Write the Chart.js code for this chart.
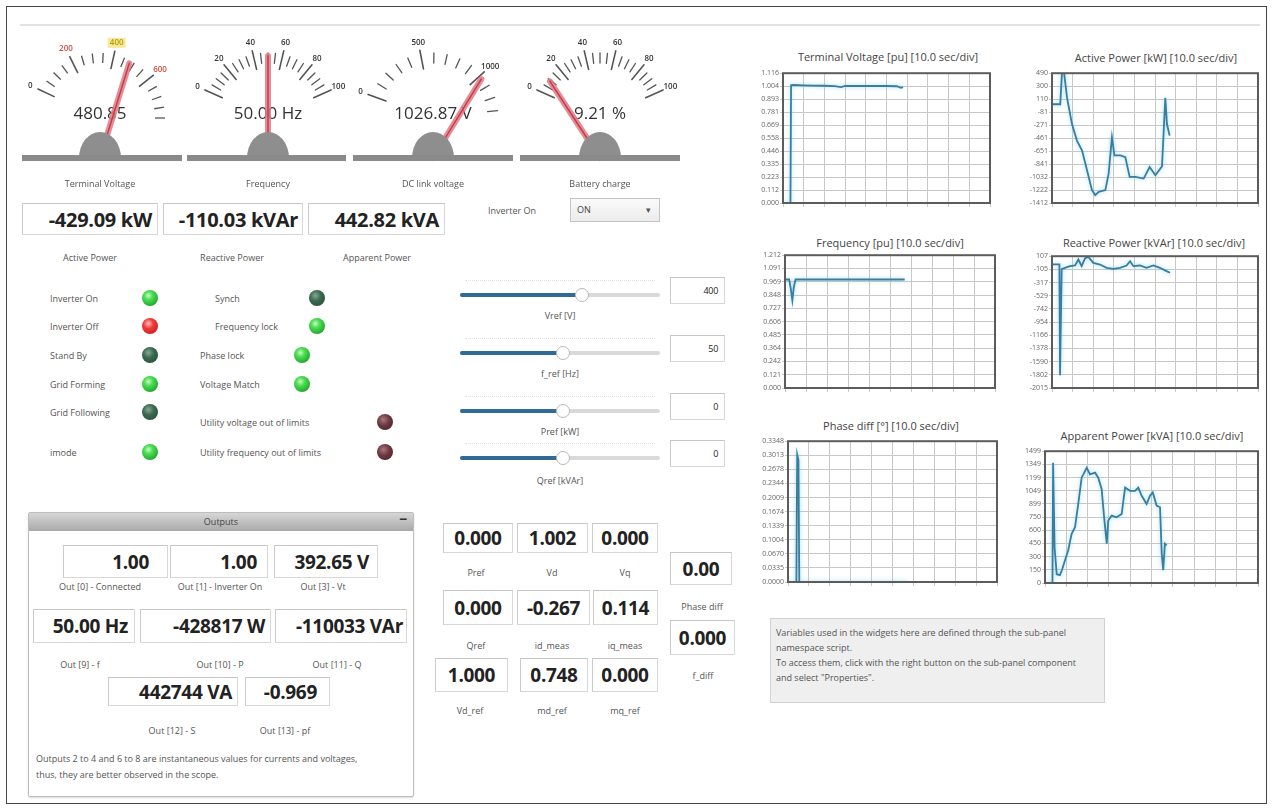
<!DOCTYPE html>
<html>
<head>
<meta charset="utf-8">
<script src="https://cdn.jsdelivr.net/npm/chart.js@4.4.1/dist/chart.umd.min.js"></script>
<style>
html, body { margin: 0; background: #fff; }
#wrap { position: relative; width: 1274px; height: 809px; overflow: hidden; font-family: "Open Sans", sans-serif; color: #333; }
.abs { position: absolute; }
.lbl { position: absolute; font-size: 9px; color: #555; white-space: nowrap; transform: translate(-50%, -50%); }
.lbl.lft { transform: translate(0, -50%); }
.ttl { position: absolute; font-size: 11px; color: #444; white-space: nowrap; transform: translate(-50%, -50%); }
.box { position: absolute; box-sizing: border-box; border: 1px solid #d8d8d8; border-top-color: #c6c6c6; border-left-color: #cccccc;
       display: flex; align-items: center; font-weight: 700; color: #222; white-space: nowrap; background: #fff; letter-spacing: -0.3px; }
.led { position: absolute; width: 16px; height: 16px; border-radius: 50%; }
.led.g { background: radial-gradient(circle at 40% 35%, #c4ffbc 0, #4fdc55 30%, #22ad2e 72%, #178520 100%); }
.led.d { background: radial-gradient(circle at 40% 35%, #86a892 0, #3b6a50 38%, #234632 100%); }
.led.r { background: radial-gradient(circle at 40% 35%, #ffc0c0 0, #f03a3a 35%, #bb1212 100%); }
.led.m { background: radial-gradient(circle at 40% 35%, #a8787f 0, #6d3843 42%, #441b23 100%); }
canvas { position: absolute; }
</style>
</head>
<body>
<div id="wrap"></div>
<script>
// --- gauges ---
var gaugeNames = ["Terminal Voltage", "Frequency", "DC link voltage", "Battery charge"];
var gaugeValues = [480.85, 50.00, 1026.87, 9.21];
var gaugeUnits = ["", " Hz", " V", " %"];
var gaugeMax = [800, 100, 1300, 100];
var gaugeMinor = [50, 5, 100, 5];
var gaugeLabels = [[0, 200, 400, 600], [0, 20, 40, 60, 80, 100], [0, 500, 1000], [0, 20, 40, 60, 80, 100]];

// --- scopes (time in s, 10 sec/div) ---
var tvTime = [0, 3.6, 3.9, 5, 10, 15, 20, 25, 28, 30, 35, 40, 45, 50, 55, 57, 58];
var tvVals = [0, 0, 1.012, 1.015, 1.012, 1.01, 1.008, 1.005, 0.996, 1.006, 1.006, 1.006, 1.006, 1.006, 1.004, 0.99, 0.996];
var tvTicks = ["0.000", "0.112", "0.223", "0.335", "0.446", "0.558", "0.669", "0.781", "0.893", "1.004", "1.116"];

var apTime = [0, 4.0, 4.8, 5.6, 7.3, 9.7, 12.1, 14.6, 17.0, 19.4, 21.0, 22.7, 25.9, 27.5, 29.1, 30.3, 33.2, 35.6, 37.7, 40.5, 44.5, 47.4, 50.2, 53.4, 55.0, 55.8, 57.1];
var apVals = [35, 35, 471, 560, 131, -255, -497, -643, -933, -1223, -1296, -1248, -1223, -981, -449, -715, -715, -740, -1030, -1030, -1054, -885, -1006, -875, 131, -255, -425];
var apTicks = ["-1412", "-1222", "-1032", "-841", "-651", "-461", "-271", "-81", "110", "300", "490"];

var frTime = [0, 2.0, 2.8, 3.5, 4.2, 5.0, 10, 20, 30, 40, 50, 57];
var frVals = [0.99, 0.99, 0.9, 0.8, 0.92, 0.99, 0.99, 0.99, 0.99, 0.99, 0.99, 0.99];
var frTicks = ["0.000", "0.121", "0.242", "0.364", "0.485", "0.606", "0.727", "0.848", "0.969", "1.091", "1.212"];

var rpTime = [0, 3.6, 3.9, 4.7, 6.3, 8.7, 11.2, 12.8, 14.4, 16.0, 17.6, 20.1, 23.3, 26.5, 29.8, 33.0, 36.2, 37.9, 39.5, 42.7, 45.9, 49.2, 52.4, 55.6, 57.3];
var rpVals = [-25, -25, -1808, -100, -80, -53, -43, 53, -53, 70, 96, 0, -27, -80, -96, -80, -43, 27, -53, -43, -80, -43, -80, -133, -160];
var rpTicks = ["-2015", "-1802", "-1590", "-1378", "-1166", "-954", "-742", "-529", "-317", "-105", "107"];

var pdTime = [0, 4.0, 4.4, 5.0, 5.4, 10, 20, 30, 40, 50, 57];
var pdVals = [0, 0, 0.303, 0.29, 0, 0, 0, 0, 0, 0, 0];
var pdTicks = ["0.0000", "0.0335", "0.0670", "0.1004", "0.1339", "0.1674", "0.2009", "0.2344", "0.2678", "0.3013", "0.3348"];

var spTime = [0, 3.5, 3.8, 4.5, 5.5, 7.0, 8.0, 9.4, 10.9, 12.5, 14.1, 15.6, 17.2, 19.6, 21.1, 23.5, 25.0, 26.6, 27.9, 29.0, 29.7, 31.3, 33.6, 36.0, 37.6, 39.9, 42.3, 43.8, 45.4, 47.7, 49.3, 50.6, 52.4, 54.0, 54.8, 55.5, 56.3, 57.1];
var spVals = [0, 0, 1367, 400, 100, 90, 150, 259, 372, 560, 635, 898, 1198, 1311, 1236, 1255, 1198, 1067, 710, 447, 710, 766, 748, 785, 1085, 1048, 1048, 1085, 992, 898, 992, 1030, 880, 861, 334, 147, 447, 428];
var spTicks = ["0", "150", "300", "450", "600", "750", "899", "1049", "1199", "1349", "1499"];

var wrap = document.getElementById("wrap");

function el(cls, css, text) {
    var d = document.createElement("div");
    d.className = cls;
    Object.keys(css).forEach(function (k) { d.style[k] = css[k]; });
    if (text !== undefined) d.textContent = text;
    wrap.appendChild(d);
    return d;
}
function px(v) { return v + "px"; }
function lbl(x, y, t, left) { return el("lbl" + (left ? " lft" : ""), { left: px(x), top: px(y) }, t); }
function box(x1, y1, x2, y2, t, o) {
    o = o || {};
    return el("box", {
        left: px(x1), top: px(y1), width: px(x2 - x1), height: px(y2 - y1),
        fontSize: px(o.fs || 19), fontWeight: o.normal ? "400" : "700",
        justifyContent: o.center ? "center" : "flex-end",
        paddingRight: px(o.pr !== undefined ? o.pr : 5)
    }, t);
}
function led(x, y, k) { el("led " + k, { left: px(x - 8), top: px(y - 8) }); }

// frame
el("abs", { left: "6px", top: "6px", width: "1261px", height: "798px", border: "1px solid #444", boxSizing: "border-box" });
el("abs", { left: "20px", top: "24px", width: "1240px", height: "2px", background: "#e2e2e2" });

// gauges
(function () {
    var cxs = [100, 268, 433, 600];
    var bars = [[22, 182], [187, 346], [353, 513], [520, 680]];
    var a0 = [155, 156, 160, 156], a1 = [0, 24, 6.6, 24];
    var cv = document.createElement("canvas");
    cv.width = 700; cv.height = 200;
    cv.style.left = "0px"; cv.style.top = "0px";
    wrap.appendChild(cv);
    var ctx = cv.getContext("2d");
    gaugeNames.forEach(function (name, i) {
        var cx = cxs[i], cy = 118, py = 158, mx = gaugeMax[i];
        var ang = function (v) { return (a0[i] + v / mx * (a1[i] - a0[i])) * Math.PI / 180; };
        var pt = function (v, r) { var a = ang(v); return [cx + r * Math.cos(a), cy - r * Math.sin(a)]; };
        for (var v = 0; v <= mx + 1e-9; v += gaugeMinor[i]) {
            var major = gaugeLabels[i].indexOf(v) >= 0;
            var p0 = pt(v, major ? 50 : 55), p1 = pt(v, major ? 69 : 65);
            ctx.strokeStyle = "#555"; ctx.lineWidth = major ? 1.6 : 1.3;
            ctx.beginPath(); ctx.moveTo(p0[0], p0[1]); ctx.lineTo(p1[0], p1[1]); ctx.stroke();
        }
        ctx.font = "600 8px 'Open Sans'"; ctx.textAlign = "center"; ctx.textBaseline = "middle";
        gaugeLabels[i].forEach(function (v) {
            var p = pt(v, 77), col = "#333";
            if (i === 0 && (v === 200 || v === 600)) col = "#d24b45";
            if (i === 0 && v === 400) {
                ctx.fillStyle = "#f4ea9c"; ctx.fillRect(p[0] - 9, p[1] - 5, 18, 10); col = "#b89c00";
            }
            ctx.fillStyle = col; ctx.fillText(String(v), p[0], p[1]);
        });
        ctx.font = "17px 'Open Sans'"; ctx.fillStyle = "#333";
        ctx.fillText(gaugeValues[i].toFixed(2) + gaugeUnits[i], cx, 114);
        var tip = pt(gaugeValues[i], 62);
        ctx.lineCap = "round";
        ctx.strokeStyle = "rgba(224,120,130,0.85)"; ctx.lineWidth = 6;
        ctx.beginPath(); ctx.moveTo(cx, py); ctx.lineTo(tip[0], tip[1]); ctx.stroke();
        ctx.strokeStyle = "#c23a48"; ctx.lineWidth = 1.4;
        ctx.beginPath(); ctx.moveTo(cx, py); ctx.lineTo(tip[0], tip[1]); ctx.stroke();
        ctx.fillStyle = "#8e8e8e";
        ctx.beginPath(); ctx.ellipse(cx, py, 21, 26, 0, Math.PI, 2 * Math.PI); ctx.fill();
        ctx.fillStyle = "#8a8a8a"; ctx.fillRect(bars[i][0], 155, bars[i][1] - bars[i][0], 6);
        lbl(cx, 183, name);
    });
})();

// power boxes
box(22, 203, 158, 235, "-429.09 kW", { fs: 20 });
box(163, 203, 303, 235, "-110.03 kVAr", { fs: 20, pr: 4 });
box(308, 203, 445, 235, "442.82 kVA", { fs: 20 });
lbl(90, 257, "Active Power"); lbl(232, 257, "Reactive Power"); lbl(377, 257, "Apparent Power");

// inverter combo
lbl(488, 210, "Inverter On", true);
el("abs", { left: "570px", top: "198px", width: "90px", height: "24px", boxSizing: "border-box", border: "1px solid #c4c4c4",
            background: "linear-gradient(#fafafa,#ececec)", fontSize: "9px", lineHeight: "22px", paddingLeft: "6px", color: "#444" }, "ON");
el("abs", { left: "646px", top: "203px", fontSize: "9px", color: "#555" }, "▾");

// LEDs
var ledL = [["Inverter On", 298, "g"], ["Inverter Off", 326, "r"], ["Stand By", 355, "d"], ["Grid Forming", 384, "g"], ["Grid Following", 412, "d"], ["imode", 452, "g"]];
ledL.forEach(function (r) { lbl(50, r[1], r[0], true); led(150, r[1], r[2]); });
var ledM = [["Synch", 215, 298, 317, "d"], ["Frequency lock", 215, 326, 317, "g"], ["Phase lock", 200, 355, 302, "g"], ["Voltage Match", 200, 384, 302, "g"],
            ["Utility voltage out of limits", 200, 422, 385, "m"], ["Utility frequency out of limits", 200, 452, 385, "m"]];
ledM.forEach(function (r) { lbl(r[1], r[2], r[0], true); led(r[3], r[2], r[4]); });

// sliders
function slider(y, kx, val, text, ly) {
    el("abs", { left: "465px", top: px(y - 15), width: "190px", height: "0", borderTop: "1px dotted #e2e2e2" });
    el("abs", { left: "460px", top: px(y - 2), width: "200px", height: "4px", background: "#d9d9d9", borderRadius: "2px" });
    el("abs", { left: "460px", top: px(y - 2), width: px(kx - 460), height: "4px", background: "#2f6b96", borderRadius: "2px" });
    el("abs", { left: px(kx - 7), top: px(y - 7), width: "14px", height: "14px", borderRadius: "50%", background: "#fff", border: "1px solid #b8b8b8", boxSizing: "border-box" });
    box(670, y - 18, 725, y + 9, val, { fs: 9, normal: true, pr: 6 });
    lbl(560, ly, text);
}
slider(295, 582, "400", "Vref [V]", 315);
slider(353, 563, "50", "f_ref [Hz]", 373);
slider(411, 563, "0", "Pref [kW]", 431);
slider(458, 563, "0", "Qref [kVAr]", 480);

// outputs panel
el("abs", { left: "28px", top: "512px", width: "386px", height: "285px", boxSizing: "border-box", border: "1px solid #bdbdbd", borderRadius: "2px", boxShadow: "0 1px 2px rgba(0,0,0,0.15)" });
el("abs", { left: "29px", top: "513px", width: "384px", height: "18px", background: "linear-gradient(#d6d6d6,#a9a9a9)", fontSize: "9px", color: "#444", textAlign: "center", lineHeight: "18px" }, "Outputs");
el("abs", { left: "399px", top: "509px", fontSize: "14px", fontWeight: "700", color: "#333" }, "−");
box(63, 545, 168, 578, "1.00", { pr: 18 });
box(170, 545, 268, 578, "1.00", { pr: 10 });
box(274, 545, 378, 578, "392.65 V", { pr: 8 });
lbl(100, 586, "Out [0] - Connected"); lbl(220, 586, "Out [1] - Inverter On"); lbl(323, 586, "Out [3] - Vt");
box(33, 609, 135, 643, "50.00 Hz", { pr: 6 });
box(140, 609, 271, 643, "-428817 W", { pr: 5 });
box(275, 609, 407, 643, "-110033 VAr", { pr: 3 });
lbl(80, 664, "Out [9] - f"); lbl(220, 664, "Out [10] - P"); lbl(337, 664, "Out [11] - Q");
box(108, 677, 238, 706, "442744 VA", { pr: 5 });
box(245, 677, 330, 706, "-0.969", { pr: 12 });
lbl(172, 730, "Out [12] - S"); lbl(285, 730, "Out [13] - pf");
lbl(36, 758, "Outputs 2 to 4 and 6 to 8 are instantaneous values for currents and voltages,", true);
lbl(36, 774, "thus, they are better observed in the scope.", true);

// centre numbers
box(443, 523, 513, 553, "0.000", { center: true, pr: 0 });
box(517, 523, 588, 553, "1.002", { center: true, pr: 0 });
box(592, 523, 658, 553, "0.000", { center: true, pr: 0 });
lbl(476, 572, "Pref"); lbl(552, 572, "Vd"); lbl(625, 572, "Vq");
box(443, 590, 513, 625, "0.000", { center: true, pr: 0 });
box(517, 590, 590, 625, "-0.267", { center: true, pr: 0 });
box(593, 590, 658, 625, "0.114", { center: true, pr: 0 });
lbl(476, 645, "Qref"); lbl(552, 645, "id_meas"); lbl(625, 645, "iq_meas");
box(435, 658, 508, 692, "1.000", { center: true, pr: 0 });
box(520, 658, 588, 692, "0.748", { center: true, pr: 0 });
box(592, 658, 658, 692, "0.000", { center: true, pr: 0 });
lbl(470, 710, "Vd_ref"); lbl(552, 710, "md_ref"); lbl(625, 710, "mq_ref");
box(670, 552, 732, 585, "0.00", { center: true, pr: 0 });
lbl(702, 606, "Phase diff");
box(670, 620, 735, 655, "0.000", { center: true, pr: 0 });
lbl(703, 675, "f_diff");

// note
el("abs", { left: "770px", top: "618px", width: "335px", height: "85px", boxSizing: "border-box", background: "#efefef", border: "1px solid #d2d2d2",
            fontSize: "9px", lineHeight: "15px", padding: "6px 6px", color: "#444" });
lbl(776, 632, "Variables used in the widgets here are defined through the sub-panel", true);
lbl(776, 647, "namespace script.", true);
lbl(776, 662, "To access them, click with the right button on the sub-panel component", true);
lbl(776, 677, "and select \"Properties\".", true);

// scopes
var framePlugin = {
    id: "frame",
    beforeDatasetsDraw: function (c) { c.ctx.save(); c.ctx.shadowColor = "rgba(110,205,235,0.7)"; c.ctx.shadowBlur = 4; },
    afterDatasetsDraw: function (c) { c.ctx.restore(); },
    afterDraw: function (c) {
        var a = c.chartArea, ctx = c.ctx;
        ctx.save(); ctx.strokeStyle = "#5c5c5c"; ctx.lineWidth = 2;
        ctx.strokeRect(a.left, a.top, a.right - a.left, a.bottom - a.top); ctx.restore();
    }
};

function scope(title, tx, ty, L, T, R, B, xs, ys, labels) {
    var W = 30, padT = 4, padR = 4, H = 6;
    var cv = document.createElement("canvas");
    cv.width = R - L + W + padR; cv.height = B - T + padT + H;
    cv.style.left = px(L - W); cv.style.top = px(T - padT);
    wrap.appendChild(cv);
    var ymin = parseFloat(labels[0]), ymax = parseFloat(labels[labels.length - 1]);
    new Chart(cv, {
        type: "line",
        data: { datasets: [{ data: xs.map(function (x, i) { return { x: x, y: ys[i] }; }), borderColor: "#3a7d9f", borderWidth: 1.8, pointRadius: 0, tension: 0, fill: false }] },
        options: {
            responsive: false, animation: false,
            layout: { padding: { top: padT, right: padR, left: 0, bottom: 0 } },
            plugins: { legend: { display: false }, tooltip: { enabled: false } },
            scales: {
                x: {
                    type: "linear", min: 0, max: 100,
                    ticks: { display: false },
                    grid: { color: "#c8c8c8", tickLength: 4, drawTicks: true },
                    border: { display: false },
                    afterBuildTicks: function (s) { var t = []; for (var k = 0; k <= 10; k++) t.push({ value: k * 10 }); s.ticks = t; },
                    afterFit: function (s) { s.height = H; }
                },
                y: {
                    min: ymin, max: ymax,
                    ticks: { font: { size: 7, family: "Open Sans" }, color: "#666", padding: 1,
                             callback: function (v, i) { return labels[i]; } },
                    grid: { color: "#c8c8c8", tickLength: 3 },
                    border: { display: false },
                    afterBuildTicks: function (s) { var t = []; for (var k = 0; k <= 10; k++) t.push({ value: ymin + k * (ymax - ymin) / 10 }); s.ticks = t; },
                    afterFit: function (s) { s.width = W; }
                }
            }
        },
        plugins: [framePlugin]
    });
    el("ttl", { left: px(tx), top: px(ty) }, title);
}

scope("Terminal Voltage [pu] [10.0 sec/div]", 888, 56, 783, 72, 990, 203, tvTime, tvVals, tvTicks);
scope("Active Power [kW] [10.0 sec/div]", 1156, 57, 1052, 72, 1258, 203, apTime, apVals, apTicks);
scope("Frequency [pu] [10.0 sec/div]", 890, 242, 785, 254, 995, 388, frTime, frVals, frTicks);
scope("Reactive Power [kVAr] [10.0 sec/div]", 1154, 242, 1052, 255, 1258, 388, rpTime, rpVals, rpTicks);
scope("Phase diff [°] [10.0 sec/div]", 891, 425, 788, 440, 997, 582, pdTime, pdVals, pdTicks);
scope("Apparent Power [kVA] [10.0 sec/div]", 1152, 435, 1045, 450, 1258, 583, spTime, spVals, spTicks);
</script>
</body>
</html>
